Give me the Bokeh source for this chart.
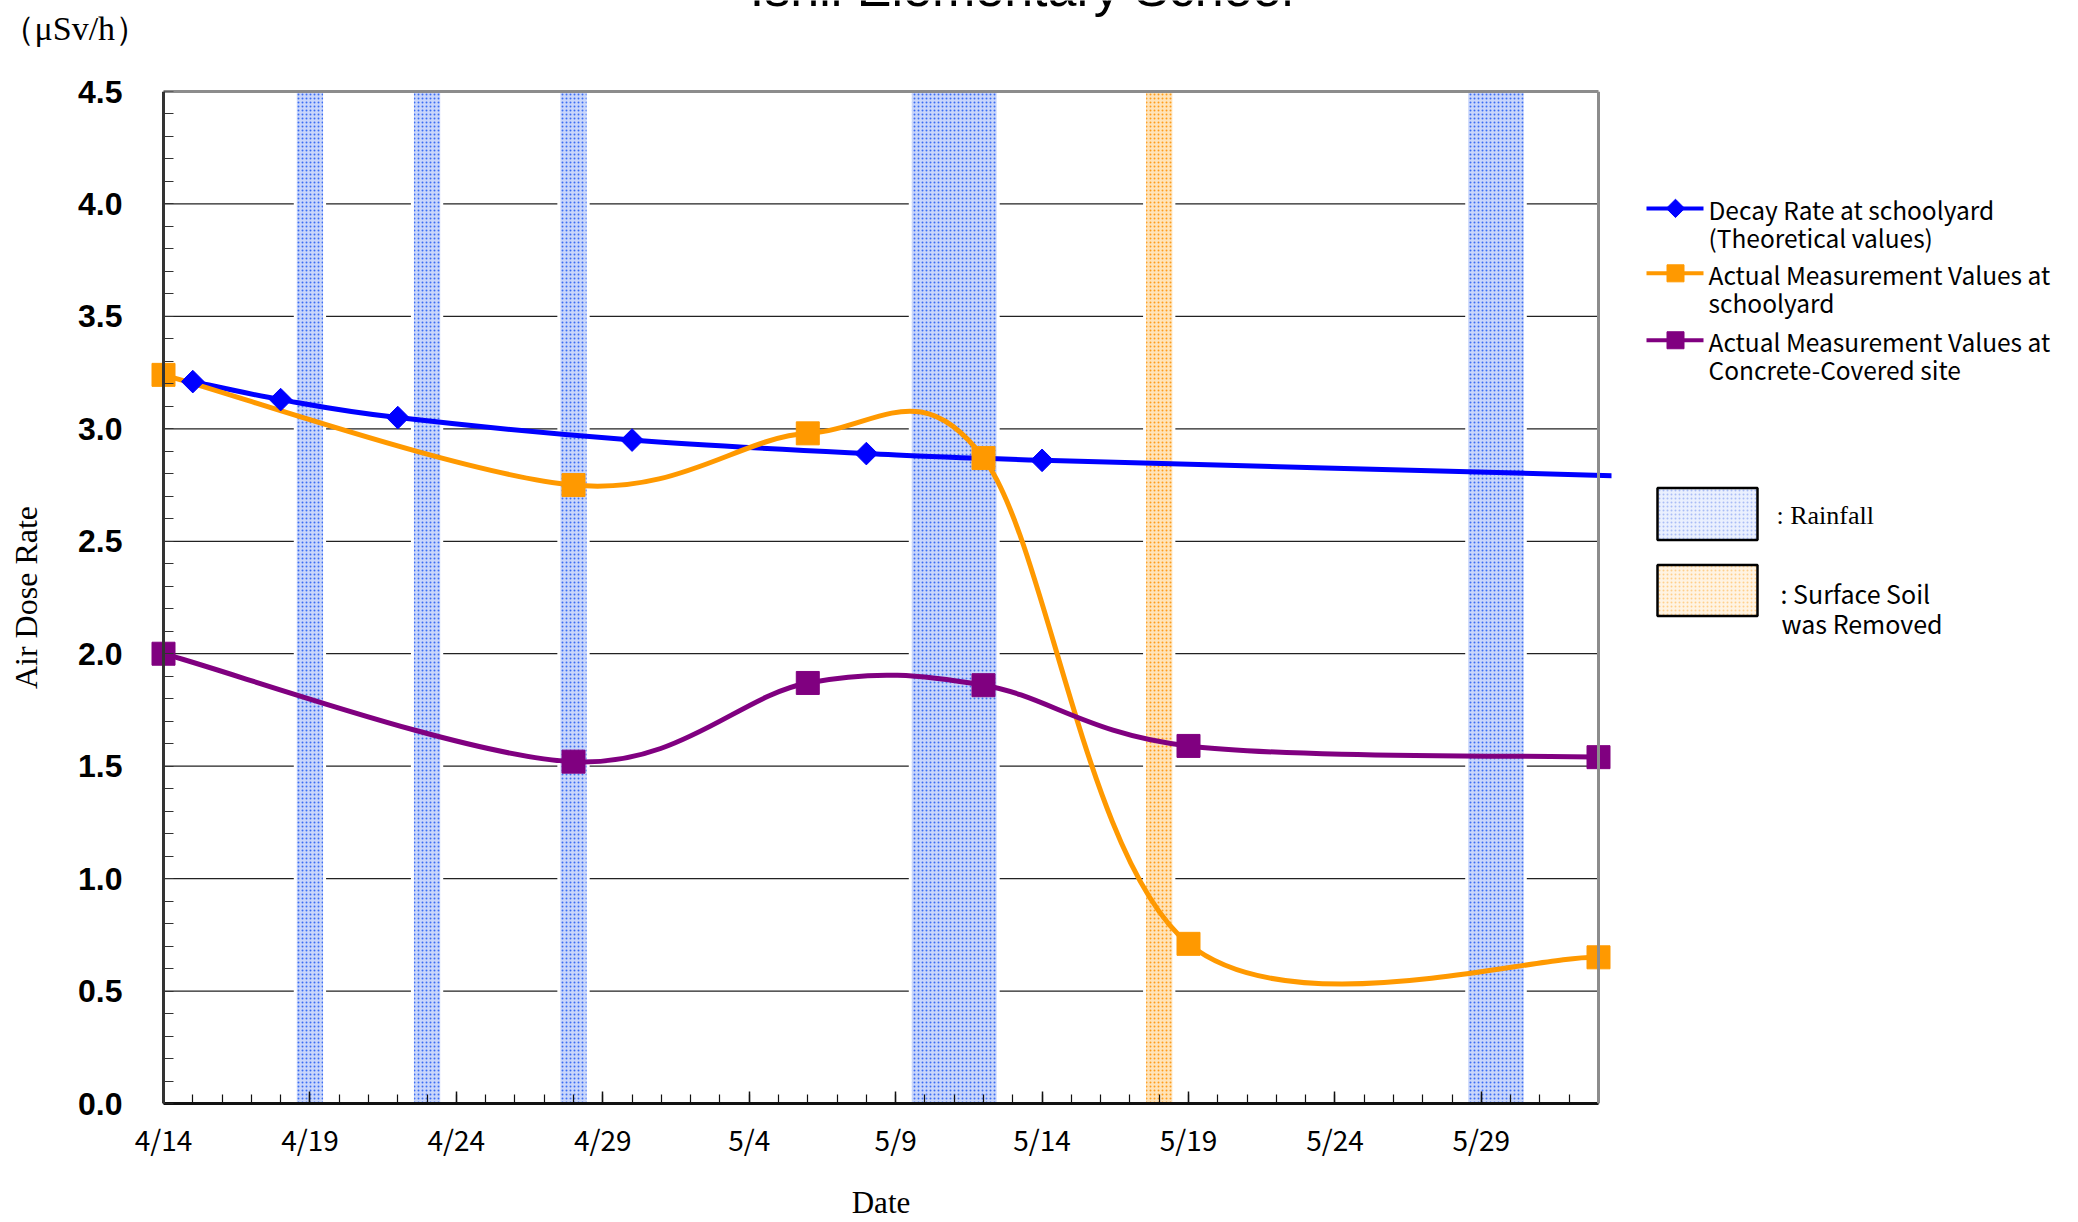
import datetime as dt
import numpy as np
from bokeh.plotting import figure
from bokeh.models import Range1d, FixedTicker, PrintfTickFormatter, LinearAxis
from bokeh.layouts import row, column
from bokeh.core.properties import value
from bokeh.embed import file_html
from bokeh.resources import INLINE

# ---------------- data ----------------
chart_title = "Ishii Elementary School"
unit_label = "（μSv/h）"
y_title = "Air Dose Rate"
x_title = "Date"
tick_labels = ["4/14", "4/19", "4/24", "4/29", "5/4", "5/9", "5/14", "5/19", "5/24", "5/29"]
y_ticks = [0.0, 0.5, 1.0, 1.5, 2.0, 2.5, 3.0, 3.5, 4.0, 4.5]
y_minor_ticks = [round(i * 0.1, 1) for i in range(46)]

decay_dates = ["4/15", "4/18", "4/22", "4/30", "5/8", "5/14", "6/3"]
decay_values = [3.21, 3.13, 3.05, 2.95, 2.89, 2.86, 2.79]
decay_marker_count = 6  # markers drawn on the first six points only

school_dates = ["4/14", "4/28", "5/6", "5/12", "5/19", "6/2"]
school_values = [3.24, 2.75, 2.98, 2.87, 0.71, 0.65]

concrete_dates = ["4/14", "4/28", "5/6", "5/12", "5/19", "6/2"]
concrete_values = [2.00, 1.52, 1.87, 1.86, 1.59, 1.54]

rain_dates = ["4/19", "4/23", "4/28", "5/10", "5/11", "5/12", "5/29", "5/30"]
soil_removed_dates = ["5/18"]

series_names = [
    ["Decay Rate at schoolyard", "(Theoretical values)"],
    ["Actual Measurement Values at", "schoolyard"],
    ["Actual Measurement Values at", "Concrete-Covered site"],
]

BASE = dt.date(2011, 4, 14)


def day(s):
    m, d = map(int, s.split("/"))
    return (dt.date(2011, m, d) - BASE).days


def runs(dates):
    ds = sorted(day(s) for s in dates)
    out = []
    for d in ds:
        if out and d == out[-1][1] + 1:
            out[-1][1] = d
        else:
            out.append([d, d])
    return [a - 0.5 for a, b in out], [b + 0.5 for a, b in out]


def smooth(xs, ys):
    P = np.column_stack([xs, ys]).astype(float)
    ext = np.vstack([P[0], P, P[-1]])
    r = {k: [] for k in ["x0", "y0", "x1", "y1", "cx0", "cy0", "cx1", "cy1"]}
    for i in range(len(P) - 1):
        p0, p1, p2, p3 = ext[i], ext[i + 1], ext[i + 2], ext[i + 3]
        c1 = p1 + (p2 - p0) / 6.0
        c2 = p2 - (p3 - p1) / 6.0
        r["x0"].append(p1[0]); r["y0"].append(p1[1])
        r["x1"].append(p2[0]); r["y1"].append(p2[1])
        r["cx0"].append(c1[0]); r["cy0"].append(c1[1])
        r["cx1"].append(c2[0]); r["cy1"].append(c2[1])
    return r


BLUE = "#0000ff"
ORANGE = "#ff9900"
PURPLE = "#800080"
BORDER = "#8c8c8c"

XMAX = day("6/2")
YMAX = 4.5

# pixel layout
TOP_H = 60
H = 1222 - TOP_H
FRAME_TOP, FRAME_BOTTOM = 91, 1104
AX_LEFT, AX_RIGHT = 163, 1598          # where 4/14 and 6/2 sit
PAD = 13                                # frame extends a little so edge markers stay whole
LABEL_EDGE = 122                        # right edge of the value labels
STRIP_W = LABEL_EDGE + 2                # left strip holding the value labels and axis title
MB_TOP = FRAME_TOP - TOP_H
MB_BOTTOM = 1222 - FRAME_BOTTOM
frame_left = AX_LEFT - PAD
frame_w = (AX_RIGHT - AX_LEFT) + 2 * PAD
ppd = (AX_RIGHT - AX_LEFT) / XMAX
MB_RIGHT = 10
P_W = (frame_left - STRIP_W) + frame_w + MB_RIGHT
LG_X0 = STRIP_W + P_W

# ---------------- top strip (title cut at the top edge, unit label) ----------------
top = figure(width=2078, height=TOP_H, x_range=Range1d(0, 2078), y_range=Range1d(TOP_H, 0),
             output_backend="svg", toolbar_location=None, min_border=0,
             x_axis_location=None, y_axis_location=None)
top.grid.visible = False
top.outline_line_color = None
top.text([1021], [-13], text=[chart_title], text_font=value("Liberation Sans"), text_font_size="52px",
         text_align="center", text_baseline="alphabetic", text_color="black")
top.text([0], [28], text=[unit_label], text_font=value("Liberation Serif"), text_font_size="34px",
         text_align="left", text_baseline="middle", text_color="black")

# ---------------- left strip: value labels + axis title ----------------
left = figure(width=STRIP_W, height=H, x_range=Range1d(0, 1), y_range=Range1d(0, YMAX),
              output_backend="svg", toolbar_location=None,
              min_border_left=LABEL_EDGE, min_border_right=0,
              min_border_top=MB_TOP, min_border_bottom=MB_BOTTOM,
              x_axis_location=None, y_axis_location="left")
left.grid.visible = False
left.outline_line_color = None
left.yaxis.ticker = FixedTicker(ticks=y_ticks)
left.yaxis.formatter = PrintfTickFormatter(format="%.1f")
left.yaxis.axis_line_color = None
left.yaxis.major_tick_in = 0
left.yaxis.major_tick_out = 0
left.yaxis.minor_tick_in = 0
left.yaxis.minor_tick_out = 0
left.yaxis.major_label_standoff = 0
left.yaxis.major_label_text_font = "Liberation Sans"
left.yaxis.major_label_text_font_size = "32px"
left.yaxis.major_label_text_font_style = "bold"
left.yaxis.major_label_text_color = "black"
left.yaxis.axis_label = y_title
left.yaxis.axis_label_text_font = "Liberation Serif"
left.yaxis.axis_label_text_font_size = "32px"
left.yaxis.axis_label_text_font_style = "normal"
left.yaxis.axis_label_text_color = "black"
left.yaxis.axis_label_standoff = 31

# ---------------- main chart ----------------
p = figure(width=P_W, height=H, x_range=Range1d(-PAD / ppd, XMAX + PAD / ppd), y_range=Range1d(0, YMAX),
           output_backend="svg", toolbar_location=None,
           min_border_left=frame_left - STRIP_W, min_border_right=MB_RIGHT,
           min_border_top=MB_TOP, min_border_bottom=MB_BOTTOM)
p.outline_line_color = None

p.xaxis.bounds = (0, XMAX)
p.xaxis.ticker = FixedTicker(ticks=[day(t) for t in tick_labels], minor_ticks=list(range(0, XMAX + 1)))
p.xaxis.major_label_overrides = {day(t): t for t in tick_labels}
p.xaxis.major_tick_in = 12
p.xaxis.major_tick_out = 0
p.xaxis.minor_tick_in = 9
p.xaxis.minor_tick_out = 0
p.xaxis.major_tick_line_color = "#111111"
p.xaxis.minor_tick_line_color = "#111111"
p.xaxis.major_tick_line_width = 1.5
p.xaxis.minor_tick_line_width = 1.2
p.xaxis.axis_line_color = "#111111"
p.xaxis.axis_line_width = 3
p.xaxis.major_label_text_font = "Noto Sans CJK JP"
p.xaxis.major_label_text_font_size = "28px"
p.xaxis.major_label_text_color = "black"
p.xaxis.major_label_standoff = 15
p.xaxis.axis_label = x_title
p.xaxis.axis_label_text_font = "Liberation Serif"
p.xaxis.axis_label_text_font_size = "31px"
p.xaxis.axis_label_text_font_style = "normal"
p.xaxis.axis_label_text_color = "black"
p.xaxis.axis_label_standoff = 23

# value axis line and ticks at 4/14 (its labels are drawn in the left strip)
p.yaxis.fixed_location = 0
p.yaxis.ticker = FixedTicker(ticks=[], minor_ticks=y_minor_ticks)
p.yaxis.major_label_standoff = 0
p.yaxis.minor_tick_in = 10
p.yaxis.minor_tick_out = 0
p.yaxis.minor_tick_line_color = "#333333"
p.yaxis.minor_tick_line_width = 1.2
p.yaxis.axis_line_color = "#333333"
p.yaxis.axis_line_width = 3

# top and right border lines of the plot area
top_axis = LinearAxis(ticker=FixedTicker(ticks=[]), bounds=(0, XMAX), axis_line_color=BORDER, axis_line_width=3,
                      major_tick_in=0, major_tick_out=0, minor_tick_in=0, minor_tick_out=0,
                      major_label_standoff=0)
p.add_layout(top_axis, "above")
right_axis = LinearAxis(ticker=FixedTicker(ticks=[]), fixed_location=XMAX, axis_line_color=BORDER,
                        axis_line_width=3, major_tick_in=0, major_tick_out=0, minor_tick_in=0,
                        minor_tick_out=0, major_label_standoff=0)
p.add_layout(right_axis, "right")

p.xgrid.visible = False
p.ygrid.visible = False
grid_y = [v for v in y_ticks if 0 < v < YMAX]
p.segment(x0=[0] * len(grid_y), x1=[XMAX] * len(grid_y), y0=grid_y, y1=grid_y,
          line_color="#222222", line_width=1.3)

rl, rr = runs(rain_dates)
p.quad(left=rl, right=rr, bottom=0, top=YMAX, fill_color="#c9d6fb", hatch_pattern="dot",
       hatch_color="#3b6df2", hatch_scale=4, hatch_weight=1.6, line_color="white", line_width=3)
sl, sr = runs(soil_removed_dates)
p.quad(left=sl, right=sr, bottom=0, top=YMAX, fill_color="#ffe3b8", hatch_pattern="dot",
       hatch_color="#ff9c1a", hatch_scale=4, hatch_weight=1.6, line_color="white", line_width=3)

for dates, vals, col in [(decay_dates, decay_values, BLUE),
                         (school_dates, school_values, ORANGE),
                         (concrete_dates, concrete_values, PURPLE)]:
    b = smooth([day(s) for s in dates], vals)
    p.bezier(source=b, x0="x0", y0="y0", x1="x1", y1="y1", cx0="cx0", cy0="cy0",
             cx1="cx1", cy1="cy1", line_color=col, line_width=5, line_cap="round")

p.scatter([day(s) for s in decay_dates[:decay_marker_count]], decay_values[:decay_marker_count],
          marker="square", angle=np.pi / 4, size=16, fill_color=BLUE, line_color=BLUE)
p.scatter([day(s) for s in school_dates], school_values, marker="square", size=23,
          fill_color=ORANGE, line_color=ORANGE)
p.scatter([day(s) for s in concrete_dates], concrete_values, marker="square", size=23,
          fill_color=PURPLE, line_color=PURPLE)

# ---------------- legend panel (frame shares the main frame's top/bottom) ----------------
lg = figure(width=2078 - LG_X0, height=H, x_range=Range1d(LG_X0, 2078), y_range=Range1d(FRAME_BOTTOM, FRAME_TOP),
            output_backend="svg", toolbar_location=None,
            min_border_left=0, min_border_right=0, min_border_top=MB_TOP, min_border_bottom=MB_BOTTOM,
            x_axis_location=None, y_axis_location=None)
lg.grid.visible = False
lg.outline_line_color = None

leg_y = [208, 273, 340]
cols = [BLUE, ORANGE, PURPLE]
lg.segment(x0=[1646] * 3, y0=leg_y, x1=[1703] * 3, y1=leg_y, line_color=cols, line_width=4)
lg.scatter([1675], [leg_y[0]], marker="square", angle=np.pi / 4, size=13, fill_color=BLUE, line_color=BLUE)
lg.scatter([1675, 1675], leg_y[1:], marker="square", size=17, fill_color=cols[1:], line_color=cols[1:])
tx, ty, tt = [], [], []
for yy, lines in zip(leg_y, series_names):
    for k, t in enumerate(lines):
        tx.append(1708); ty.append(yy + 1 + 28 * k); tt.append(t)
lg.text(tx, ty, text=tt, text_font=value("Noto Sans CJK JP"), text_font_size="24.5px",
        text_baseline="middle", text_align="left", text_color="black")

lg.quad(left=[1657], right=[1757], top=[488], bottom=[540], fill_color="#eaf0fe", hatch_pattern="dot",
        hatch_color="#a9bdf6", hatch_scale=4, hatch_weight=1.4, line_color="black", line_width=2.5)
lg.quad(left=[1657], right=[1757], top=[565], bottom=[616], fill_color="#fff3e3", hatch_pattern="dot",
        hatch_color="#ffcf8c", hatch_scale=4, hatch_weight=1.4, line_color="black", line_width=2.5)
lg.text([1776], [515], text=[": Rainfall"], text_font=value("Liberation Serif"), text_font_size="26px",
        text_baseline="middle", text_align="left", text_color="black")
lg.text([1780, 1781], [593, 623], text=[": Surface Soil", "was Removed"], text_font=value("Noto Sans CJK JP"),
        text_font_size="25px", text_baseline="middle", text_align="left", text_color="black")

layout = column(top, row(left, p, lg, spacing=0), spacing=0)
open("out.html", "w").write(file_html(layout, INLINE))
